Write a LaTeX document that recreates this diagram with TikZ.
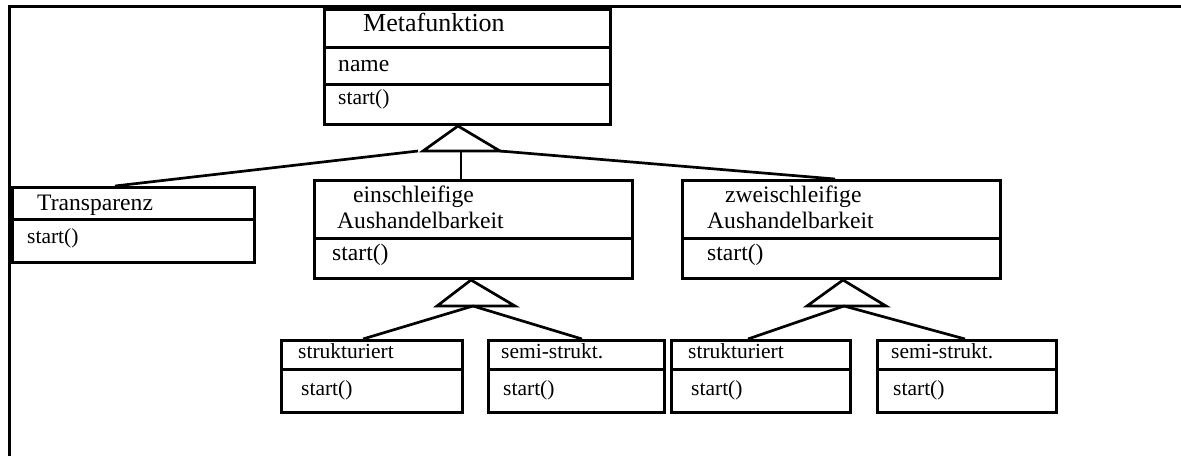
\documentclass[tikz,border=0pt]{standalone}
\usepackage{fontspec}
\setmainfont{Liberation Serif}
\usetikzlibrary{calc}
\begin{document}
\begin{tikzpicture}[x=1pt,y=-1pt,
  classbox/.style={draw,line width=3pt,rectangle,inner sep=0pt,anchor=north west},
  divider/.style={line width=3pt},
  conn/.style={line width=2.7pt},
  inh/.style={line width=2.7pt,line join=miter},
  lbl/.style={anchor=base west,inner sep=0pt},
  fbig/.style={font=\fontsize{26}{28}\selectfont},
  fmid/.style={font=\fontsize{23.6}{26}\selectfont},
  fsm/.style={font=\fontsize{21.5}{24}\selectfont}]
\useasboundingbox (0,0) rectangle (1181,456);
% frame
\draw[line width=3pt] (9,456) -- (9,6) -- (1181,6);

% boxes
\node[classbox,minimum width=286pt,minimum height=115pt] (meta) at (323,8) {};
\node[classbox,minimum width=242pt,minimum height=75pt] (trans) at (11,186) {};
\node[classbox,minimum width=318pt,minimum height=98pt] (eins) at (313,179) {};
\node[classbox,minimum width=318pt,minimum height=98pt] (zwei) at (681,179) {};
\node[classbox,minimum width=181pt,minimum height=72pt] (s1) at (280,339) {};
\node[classbox,minimum width=176pt,minimum height=72pt] (ss1) at (487,339) {};
\node[classbox,minimum width=179pt,minimum height=72pt] (s2) at (670,339) {};
\node[classbox,minimum width=179pt,minimum height=72pt] (ss2) at (876,339) {};

% dividers
\draw[divider] ($(meta.north west)+(0,39)$) -- ($(meta.north east)+(0,39)$);
\draw[divider] ($(meta.north west)+(0,76)$) -- ($(meta.north east)+(0,76)$);
\draw[divider] ($(trans.north west)+(0,33)$) -- ($(trans.north east)+(0,33)$);
\draw[divider] ($(eins.north west)+(0,59)$) -- ($(eins.north east)+(0,59)$);
\draw[divider] ($(zwei.north west)+(0,59)$) -- ($(zwei.north east)+(0,59)$);
\foreach \b in {s1,ss1,s2,ss2}
  \draw[divider] ($(\b.north west)+(0,30)$) -- ($(\b.north east)+(0,30)$);

% texts
\node[lbl,fbig] (tmeta) at (363,31) {Metafunktion};
\node[lbl,fmid] (tname) at (338,71) {name};
\node[lbl,fsm] (tmstart) at (338,104) {start()};
\node[lbl,fmid] (ttrans) at (37,210) {Transparenz};
\node[lbl,fsm] (ttstart) at (27,243) {start()};
\node[lbl,fmid] (teins) at (353,202) {einschleifige};
\node[lbl,fmid] (teinsb) at (337,228) {Aushandelbarkeit};
\node[lbl,fmid] (testart) at (332,260) {start()};
\node[lbl,fmid] (tzwei) at (725,202) {zweischleifige};
\node[lbl,fmid] (tzweib) at (707,228) {Aushandelbarkeit};
\node[lbl,fmid] (tzstart) at (707,260) {start()};
\node[lbl,fsm] (ts1) at (298,358) {strukturiert};
\node[lbl,fsm] (ts1s) at (301,395) {start()};
\node[lbl,fsm] (tss1) at (501,358) {semi-strukt.};
\node[lbl,fsm] (tss1s) at (503,395) {start()};
\node[lbl,fsm] (ts2) at (688,358) {strukturiert};
\node[lbl,fsm] (ts2s) at (691,395) {start()};
\node[lbl,fsm] (tss2) at (891,358) {semi-strukt.};
\node[lbl,fsm] (tss2s) at (893,395) {start()};

% inheritance triangles
\coordinate (a1) at ($(meta.south west)+(135,0)$);
\coordinate (a1l) at ($(a1)+(-35,25)$);
\coordinate (a1r) at ($(a1)+(42,25)$);
\coordinate (a1m) at ($(a1)+(3,25)$);
\coordinate (a1ll) at ($(a1)+(-40,25)$);
\draw[inh] (a1) -- (a1l) -- (a1r) -- cycle;

\coordinate (a2) at ($(eins.south west)+(158,0)$);
\coordinate (a2l) at ($(a2)+(-34,26)$);
\coordinate (a2r) at ($(a2)+(44,26)$);
\coordinate (a2m) at ($(a2)+(2,26)$);
\draw[inh] (a2) -- (a2l) -- (a2r) -- cycle;

\coordinate (a3) at ($(zwei.south west)+(162,0)$);
\coordinate (a3l) at ($(a3)+(-36,26)$);
\coordinate (a3r) at ($(a3)+(43,26)$);
\coordinate (a3m) at ($(a3)+(1,26)$);
\draw[inh] (a3) -- (a3l) -- (a3r) -- cycle;

% connectors
\draw[conn] (a1ll) -- ($(trans.north west)+(104,0)$);
\draw[conn] (a1m) -- (a1m |- eins.north);
\draw[conn] (a1r) -- ($(zwei.north west)+(154,0)$);
\draw[conn] (a2m) -- ($(s1.north west)+(83,0)$);
\draw[conn] (a2m) -- ($(ss1.north west)+(95,0)$);
\draw[conn] (a3m) -- ($(s2.north west)+(78,0)$);
\draw[conn] (a3m) -- ($(ss2.north west)+(89,0)$);
\end{tikzpicture}
\end{document}
